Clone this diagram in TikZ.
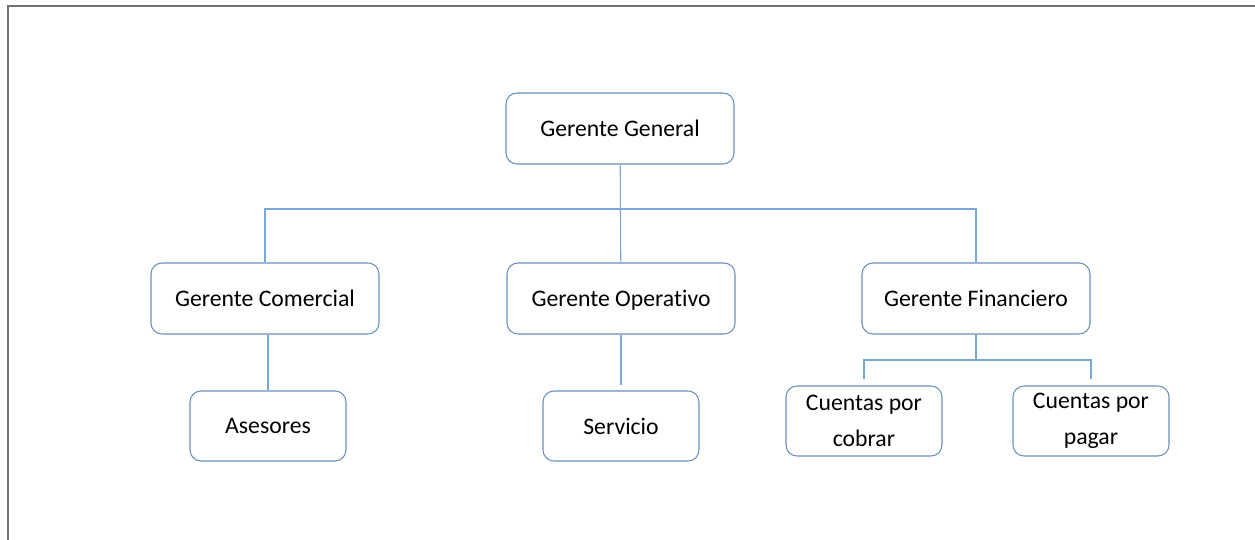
\documentclass[tikz,border=0pt]{standalone}
\usepackage{fontspec}
\setmainfont[Ligatures={NoCommon}]{Carlito}
\usetikzlibrary{positioning}
\definecolor{marco}{RGB}{108,142,188}
\definecolor{enlace}{RGB}{122,166,216}
\tikzset{node distance=2.5cm,
    caja/.style={
        draw=marco,
        semithick,
        rounded corners=0.22cm,
        font=\fontsize{13.5}{20.5}\selectfont},
    cargo/.style={
        caja,
        minimum width=4.56cm,
        minimum height=1.42cm,
        text height=2.4ex,
        text depth=0.5ex},
    puesto/.style={
        caja,
        minimum width=3.12cm,
        minimum height=1.40cm,
        align=center},
    linea/.style={
        draw=enlace,
        semithick}}

\begin{document}
\begin{tikzpicture}
        \useasboundingbox (0,0) rectangle (25.1,-10.8);
        \draw[gray!90!black,line width=1pt] (0.16,-10.8) -- (0.16,-0.12) -- (25.1,-0.12);

        \node[cargo] (general) at (12.4,-2.57) {Gerente General};

        \node[cargo] (comercial) at (5.3,-5.97) {Gerente Comercial};
        \node[cargo] (operativo) at (12.42,-5.97) {Gerente Operativo};
        \node[cargo] (financiero) at (19.52,-5.97) {Gerente Financiero};

        \node[puesto] (asesores) at (5.36,-8.52) {Asesores};
        \node[puesto] (servicio) at (12.42,-8.52) {Servicio};
        \node[puesto] (cobrar) at (17.28,-8.42) {Cuentas por\\cobrar};
        \node[puesto] (pagar) at (21.82,-8.42) {Cuentas por\\pagar};

        \coordinate (bus) at (12.4,-4.18);
        \coordinate (ramal) at (19.52,-7.2);

        \draw[linea] (general) -- (operativo);
        \draw[linea] (comercial.north) |- (bus) -| (financiero.north);

        \draw[linea] (comercial.south -| asesores.north) -- (asesores);
        \draw[linea,shorten >=0.1cm] (operativo) -- (servicio);

        \draw[linea] (financiero) -- (ramal);
        \draw[linea,shorten >=0.12cm] (ramal) -| (cobrar);
        \draw[linea,shorten >=0.12cm] (ramal) -| (pagar);
\end{tikzpicture}
\end{document}
